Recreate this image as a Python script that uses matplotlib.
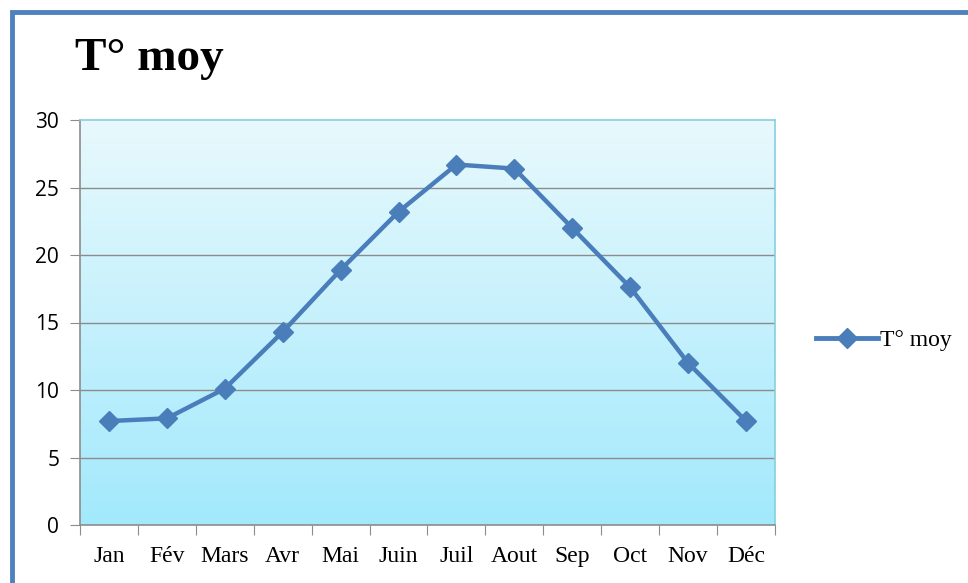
import numpy as np
import matplotlib.pyplot as plt
from matplotlib.colors import LinearSegmentedColormap
from matplotlib.patches import Rectangle
from matplotlib.lines import Line2D

# Monthly mean temperature
months = ['Jan', 'Fév', 'Mars', 'Avr', 'Mai', 'Juin', 'Juil', 'Aout', 'Sep', 'Oct', 'Nov', 'Déc']
temps = [7.7, 7.9, 10.1, 14.3, 18.9, 23.2, 26.7, 26.4, 22.0, 17.6, 12.0, 7.7]
yticks = [0, 5, 10, 15, 20, 25, 30]

fig = plt.figure(figsize=(9.68, 5.83), dpi=100)
fig.patch.set_facecolor('white')

# outer chart frame (cropped on right and bottom)
frame = Rectangle((12 / 968, -0.05), 1.2, 1 - 12 / 583 + 0.05, transform=fig.transFigure,
                  fill=False, edgecolor='#4F81BD', linewidth=3.5)
fig.patches.append(frame)

ax = fig.add_axes([80 / 968, 1 - 525 / 583, 695 / 968, 405 / 583])

x = np.arange(len(months))
ax.set_xlim(-0.5, len(months) - 0.5)
ax.set_ylim(0, 30)

# gradient background
cmap = LinearSegmentedColormap.from_list('bg', ['#A2E9FC', '#E8F9FD'])
grad = np.linspace(0, 1, 256).reshape(-1, 1)
ax.imshow(grad, cmap=cmap, aspect='auto', extent=(-0.5, len(months) - 0.5, 0, 30),
          origin='lower', zorder=0)

for y in yticks[1:-1]:
    ax.axhline(y, color='#8C8C8C', linewidth=1, zorder=1)

ax.plot(x, temps, color='#4A7EBB', linewidth=3.2, marker='D', markersize=10,
        markeredgecolor='#4A7EBB', zorder=3)

ax.set_yticks(yticks)
ax.set_yticklabels([str(v) for v in yticks], fontfamily='Open Sans', fontsize=15)
ax.set_xticks(np.arange(len(months) + 1) - 0.5)
ax.set_xticklabels([])
ax.set_xticks(x, minor=True)
ax.set_xticklabels(months, minor=True, fontfamily='Liberation Serif', fontsize=17)
ax.tick_params(axis='x', which='minor', length=0, pad=15)
ax.tick_params(axis='x', which='major', length=7, color='#8C8C8C', direction='out')
ax.tick_params(axis='y', length=7, color='#8C8C8C', direction='out', pad=8)

ax.spines['left'].set_color('#8C8C8C')
ax.spines['bottom'].set_color('#8C8C8C')
ax.spines['top'].set_color('#86CFDF')
ax.spines['right'].set_color('#86CFDF')
for s in ax.spines.values():
    s.set_linewidth(1.2)

fig.text(75 / 968, 1 - 70 / 583, 'T° moy', fontfamily='Liberation Serif', fontweight='bold',
         fontsize=34, ha='left', va='baseline')

handle = Line2D([], [], color='#4A7EBB', linewidth=3.5, marker='D', markersize=10)
fig.legend([handle], ['T° moy'], loc='center left', bbox_to_anchor=(795 / 968, 1 - 340 / 583),
           frameon=False, prop={'family': 'Liberation Serif', 'size': 17},
           handlelength=2.6, handletextpad=0.1)

fig.savefig('out.png', dpi=100)
